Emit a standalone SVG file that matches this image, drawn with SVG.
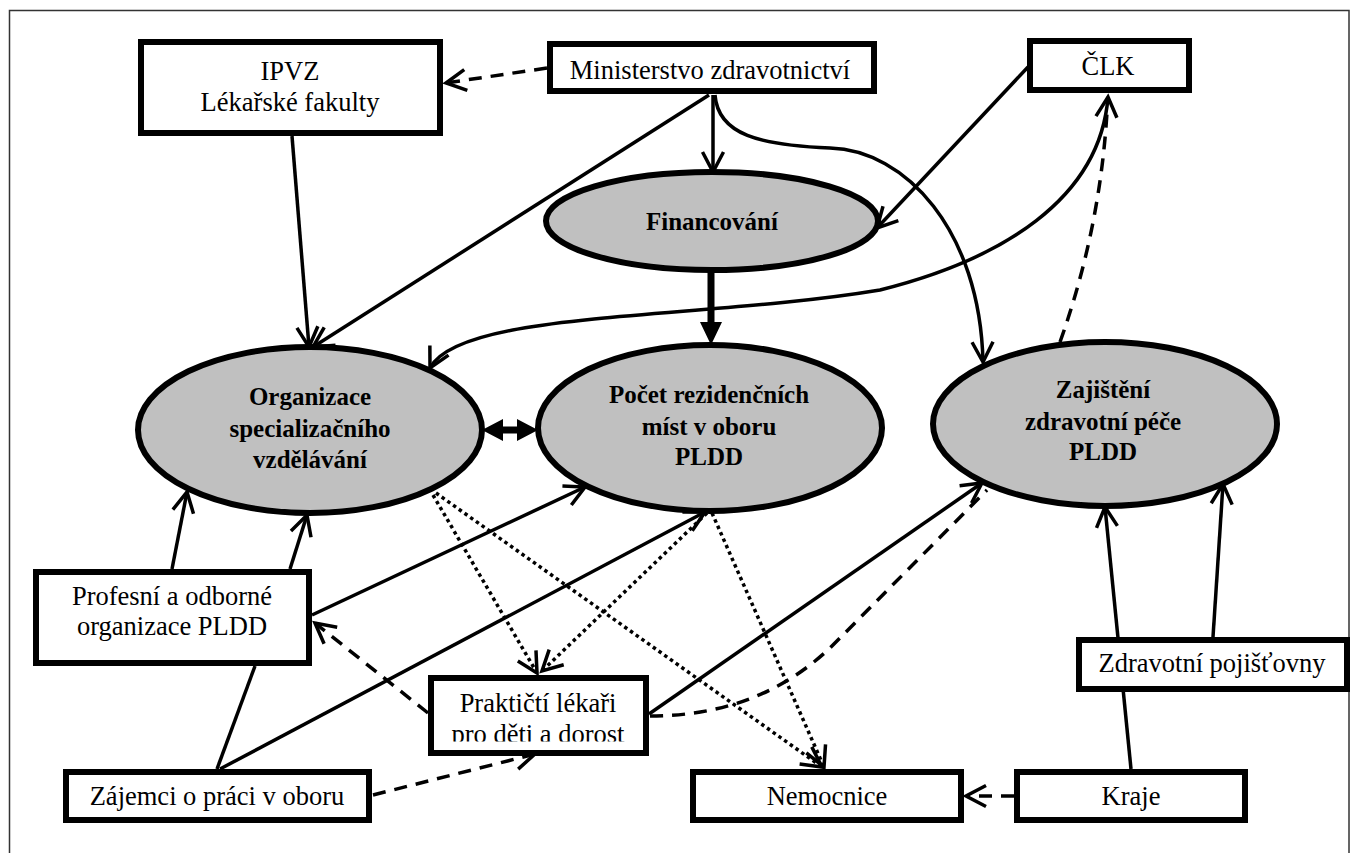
<svg xmlns="http://www.w3.org/2000/svg" width="1351" height="853" viewBox="0 0 1351 853">
<style>
.box{fill:#fff;stroke:#000;stroke-width:6}
.ell{fill:#c0c0c0;stroke:#000;stroke-width:6}
.t{font-family:"Liberation Serif","Times New Roman",serif;font-size:26.5px;fill:#000;text-anchor:middle}
.b{font-family:"Liberation Serif","Times New Roman",serif;font-size:25px;font-weight:bold;fill:#000;text-anchor:middle}
.c{fill:none;stroke:#000;stroke-width:3.5}
.dash{stroke-dasharray:13 9}
.dot{stroke-dasharray:3.5 3.5}
</style>
<defs>
<marker id="a" markerUnits="userSpaceOnUse" markerWidth="30" markerHeight="30" viewBox="-25 -15 30 30" refX="0" refY="0" orient="auto-start-reverse">
<path d="M-20,-10.5 L0,0 L-20,10.5" fill="none" stroke="#000" stroke-width="3.5"/>
</marker>
<clipPath id="clipP"><rect x="430" y="676" width="218" height="65.5"/></clipPath>
</defs>
<rect x="9.5" y="10.5" width="1339.5" height="870" fill="none" stroke="#333" stroke-width="1.5"/>
<g id="connectors">
<path class="c dash" d="M547,68 L446,83" marker-end="url(#a)"/>
<path class="c" d="M292,136 L309,347" marker-end="url(#a)"/>
<path class="c" d="M709,95 L313,347" marker-end="url(#a)"/>
<path class="c" d="M713,95 L713,172" marker-end="url(#a)"/>
<path class="c" d="M715,95 C718,135 760,145 830,148 C905,150 980,230 983,362" marker-end="url(#a)"/>
<path class="c" d="M1028,67 L877,228" marker-end="url(#a)"/>
<path class="c" d="M1108,97 C1100,200 1000,260 880,290 C700,320 460,310 430,368" marker-start="url(#a)" marker-end="url(#a)"/>
<path class="c dash" d="M1060,342 Q1100,230 1107,112"/>
<path class="c" d="M172,569 L187,492" marker-end="url(#a)"/>
<path class="c" d="M290,569 L307,515" marker-end="url(#a)"/>
<path class="c" d="M312,615 L585,487" marker-end="url(#a)"/>
<path class="c dash" d="M428,713 L315,623" marker-end="url(#a)"/>
<path class="c" d="M217,769 L255,666"/>
<path class="c" d="M220,769 L705,512" marker-end="url(#a)"/>
<path class="c dash" d="M373,795 L535,754" marker-end="url(#a)"/>
<path class="c dot" d="M433,495 L537,673" marker-end="url(#a)"/>
<path class="c dot" d="M436,493 L822,767" marker-end="url(#a)"/>
<path class="c dot" d="M707,513 L542,671" marker-end="url(#a)"/>
<path class="c dot" d="M712,513 L824,767" marker-end="url(#a)"/>
<path class="c" d="M649,714 L982,483" marker-end="url(#a)"/>
<path class="c dash" d="M650,716 C720,716 780,695 830,648 L987,490"/>
<path class="c" d="M1131,769 L1105,507" marker-end="url(#a)"/>
<path class="c" d="M1213,637 L1223,484" marker-end="url(#a)"/>
<path class="c dash" d="M1014,796 L966,796" marker-end="url(#a)"/>
<path d="M707.5,268 L714.5,268 L714.5,322 L722,322 L711,345 L700,322 L707.5,322 Z" fill="#000"/>
<path d="M482,430 L503,419 L503,426.5 L517,426.5 L517,419 L538,430 L517,441 L517,433.5 L503,433.5 L503,441 Z" fill="#000"/>
</g>
<g id="ipvz">
<rect class="box" x="141" y="42" width="299" height="91"/>
<text class="t" x="290" y="80">IPVZ</text>
<text class="t" x="290" y="111">Lékařské fakulty</text>
</g>
<g id="ministerstvo">
<rect class="box" x="550" y="44" width="324" height="47"/>
<text class="t" x="710" y="79">Ministerstvo zdravotnictví</text>
</g>
<g id="clk">
<rect class="box" x="1030" y="41" width="159" height="49"/>
<text class="t" x="1108" y="75">ČLK</text>
</g>
<g id="financovani">
<ellipse class="ell" cx="712" cy="221" rx="166" ry="49"/>
<text class="b" x="712" y="230">Financování</text>
</g>
<g id="organizace">
<ellipse class="ell" cx="310" cy="430" rx="172" ry="83"/>
<text class="b" x="310" y="405">Organizace</text>
<text class="b" x="310" y="437">specializačního</text>
<text class="b" x="310" y="468">vzdělávání</text>
</g>
<g id="pocet">
<ellipse class="ell" cx="710" cy="428" rx="172" ry="83"/>
<text class="b" x="709" y="403">Počet rezidenčních</text>
<text class="b" x="709" y="435">míst v oboru</text>
<text class="b" x="709" y="465">PLDD</text>
</g>
<g id="zajisteni">
<ellipse class="ell" cx="1105" cy="424" rx="172" ry="82"/>
<text class="b" x="1103" y="398">Zajištění</text>
<text class="b" x="1103" y="430">zdravotní péče</text>
<text class="b" x="1103" y="460">PLDD</text>
</g>
<g id="profesni">
<rect class="box" x="36" y="572" width="273" height="91"/>
<text class="t" x="172" y="605">Profesní a odborné</text>
<text class="t" x="172" y="635">organizace PLDD</text>
</g>
<g id="prakticti">
<rect class="box" x="431" y="678" width="215" height="75"/>
<g clip-path="url(#clipP)">
<text class="t" x="538" y="712">Praktičtí lékaři</text>
<text class="t" x="538" y="743">pro děti a dorost</text>
</g>
</g>
<g id="zajemci">
<rect class="box" x="66" y="772" width="303" height="48"/>
<text class="t" x="217" y="805">Zájemci o práci v oboru</text>
</g>
<g id="nemocnice">
<rect class="box" x="693" y="772" width="268" height="48"/>
<text class="t" x="827" y="805">Nemocnice</text>
</g>
<g id="kraje">
<rect class="box" x="1017" y="772" width="228" height="48"/>
<text class="t" x="1131" y="805">Kraje</text>
</g>
<g id="pojistovny">
<rect class="box" x="1079" y="640" width="268" height="49"/>
<text class="t" x="1212" y="672">Zdravotní pojišťovny</text>
</g>
</svg>
